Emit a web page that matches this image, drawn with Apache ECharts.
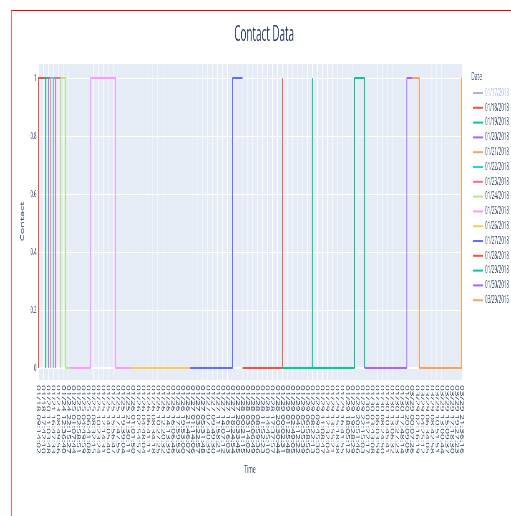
<!DOCTYPE html>
<html><head><meta charset="utf-8">
<script src="https://cdn.jsdelivr.net/npm/echarts@6/dist/echarts.min.js"></script>
<style>
html,body{margin:0;padding:0;background:#fff;overflow:hidden;width:511px;height:516px;}
#wrap{position:absolute;left:0;top:0;width:1136px;height:516px;transform:scaleX(0.45);transform-origin:0 0;}
#chart{width:1136px;height:516px;}
#frame{position:absolute;left:11px;top:10px;width:500px;height:506px;border-top:1px solid #ff0000;border-left:1px solid #ee6b6b;pointer-events:none;}
</style></head><body>
<div id="wrap"><div id="chart"></div></div>
<div id="frame"></div>
<script>
// x categories (time stamps)
const timeLabels = [
'01/18 09:14:02','01/18 09:14:37','01/18 17:42:10',
'01/19 08:55:21',
'01/20 11:03:48',
'01/21 10:20:05','01/21 16:47:33',
'01/22 09:31:12',
'01/23 08:49:56',
'01/24 09:02:14','01/24 12:36:40','01/24 17:58:03','01/24 22:15:27',
'01/25 00:12:09','01/25 01:07:44','01/25 02:03:18','01/25 02:58:51','01/25 03:54:26','01/25 04:49:59','01/25 05:45:33','01/25 06:41:08','01/25 07:36:42','01/25 08:32:15','01/25 09:27:49','01/25 10:23:24','01/25 11:18:57','01/25 12:14:31','01/25 13:10:06','01/25 14:05:40','01/25 15:01:13','01/25 15:56:47','01/25 16:52:22','01/25 17:47:55','01/25 18:43:29','01/25 19:39:04','01/25 20:34:38','01/25 21:30:11',
'01/26 00:05:17','01/26 01:01:50','01/26 01:58:24','01/26 02:54:57','01/26 03:51:31','01/26 04:48:04','01/26 05:44:38','01/26 06:41:11','01/26 07:37:45','01/26 08:34:18','01/26 09:30:52','01/26 10:27:25','01/26 11:23:59','01/26 12:20:32','01/26 13:17:06','01/26 14:13:39','01/26 15:10:13','01/26 16:06:46','01/26 17:03:20','01/26 17:59:53','01/26 18:56:27','01/26 19:53:00','01/26 20:49:34','01/26 21:46:07',
'01/27 00:09:41','01/27 01:14:06','01/27 02:18:32','01/27 03:22:57','01/27 04:27:23','01/27 05:31:48','01/27 06:36:14','01/27 07:40:39','01/27 08:45:05','01/27 09:49:30','01/27 10:53:56','01/27 11:58:21','01/27 13:02:47','01/27 14:07:12','01/27 15:11:38','01/27 16:16:03','01/27 17:20:29','01/27 18:24:54','01/27 19:29:20','01/27 20:33:45','01/27 21:38:11',
'01/28 00:21:15','01/28 01:47:38','01/28 03:14:02','01/28 04:40:25','01/28 06:06:49','01/28 07:33:12','01/28 08:59:36','01/28 10:25:59','01/28 11:52:23','01/28 13:18:46','01/28 14:45:10','01/28 16:11:33','01/28 17:37:57','01/28 19:04:20','01/28 20:30:44','01/28 21:57:07',
'01/29 00:02:31','01/29 00:44:09','01/29 01:25:48','01/29 02:07:26','01/29 02:49:05','01/29 03:30:43','01/29 04:12:22','01/29 04:54:00','01/29 05:35:39','01/29 06:17:17','01/29 06:58:56','01/29 07:40:34','01/29 08:22:13','01/29 09:03:51','01/29 09:45:30','01/29 10:27:08','01/29 11:08:47','01/29 11:50:25','01/29 12:32:04','01/29 13:13:42','01/29 13:55:21','01/29 14:36:59','01/29 15:18:38','01/29 16:00:16','01/29 16:41:55','01/29 17:23:33','01/29 18:05:12','01/29 18:46:50','01/29 19:28:29','01/29 20:10:07','01/29 20:51:46','01/29 21:33:24','01/29 22:15:03',
'01/30 00:11:52','01/30 01:22:17','01/30 02:32:43','01/30 03:43:08','01/30 04:53:34','01/30 06:03:59','01/30 07:14:25','01/30 08:24:50','01/30 09:35:16','01/30 10:45:41','01/30 11:56:07','01/30 13:06:32','01/30 14:16:58','01/30 15:27:23','01/30 16:37:49','01/30 17:48:14','01/30 18:58:40','01/30 20:09:05','01/30 21:19:31',
'03/29 00:07:26','03/29 01:11:53','03/29 02:16:19','03/29 03:20:46','03/29 04:25:12','03/29 05:29:39','03/29 06:34:05','03/29 07:38:32','03/29 08:42:58','03/29 09:47:25','03/29 10:51:51','03/29 11:56:18','03/29 13:00:44','03/29 14:05:11','03/29 15:09:37','03/29 16:14:04','03/29 17:18:30','03/29 18:22:57','03/29 19:27:23','03/29 20:31:50','03/29 21:36:16'
];

// legend names (one series per date)
const dateNames = ['01/17/2018','01/18/2018','01/19/2018','01/20/2018','01/21/2018','01/22/2018','01/23/2018','01/24/2018','01/25/2018','01/26/2018','01/27/2018','01/28/2018','01/29/2018','01/30/2018','03/29/2016'];

// series values: [category index, contact]
const contact0117 = [[0,0],[0,1]];
const contact0118 = [[0,0],[0,1],[3,0]];
const contact0119 = [[3,0],[3,1],[4,0]];
const contact0120 = [[4,0],[4,1],[5,0]];
const contact0121 = [[5,0],[5,1],[6,0]];
const contact0122 = [[6,0],[6,1],[7,0]];
const contact0123 = [[7,0],[7,1],[9,0]];
const contact0124 = [[9,0],[9,1],[11,0],[13,0]];
const contact0125 = [[13,0],[21,1],[31,0],[37,0]];
const contact0126 = [[37,0],[61,0]];
const contact0127 = [[61,0],[78,1],[82,1]];
const contact0128 = [[82,0],[98,1]];
const contact0129 = [[98,0],[110,1],[110,0],[127,1],[131,0]];
const contact0130 = [[131,0],[148,1],[150,1]];
const contact0329 = [[150,1],[153,0],[170,1]];

const seriesValues = [contact0117,contact0118,contact0119,contact0120,contact0121,contact0122,contact0123,contact0124,contact0125,contact0126,contact0127,contact0128,contact0129,contact0130,contact0329];
const palette = ['#636EFA','#EF553B','#00CC96','#AB63FA','#FFA15A','#19D3F3','#FF6692','#B6E880','#FF97FF','#FECB52','#636EFA','#EF553B','#00CC96','#AB63FA','#FFA15A'];

const FONT = 'Open Sans';
const TXT = '#2a3f5f';

const chart = echarts.init(document.getElementById('chart'), null, {renderer:'canvas'});
const series = dateNames.map((name, i) => ({
  name: name,
  type: 'line',
  step: 'end',
  data: seriesValues[i],
  xAxisIndex: 0,
  yAxisIndex: 0,
  symbol: 'none',
  showSymbol: false,
  lineStyle: {width: 2, color: palette[i]},
  itemStyle: {color: palette[i]},
  emphasis: {disabled: true}
}));
const selected = {};
selected['01/17/2018'] = false;

chart.setOption({
  animation: false,
  textStyle: {fontFamily: FONT},
  title: [
    {text: 'Contact Data', left: 582, top: 19, textAlign: 'center',
     textStyle: {fontFamily: FONT, fontSize: 22, fontWeight: 'normal', color: TXT}},
    {text: 'Date', left: 1042, top: 66,
     textStyle: {fontFamily: FONT, fontSize: 11, fontWeight: 'normal', color: TXT}}
  ],
  legend: {
    data: dateNames,
    orient: 'vertical',
    left: 1046, top: 83,
    icon: 'rect', itemWidth: 22, itemHeight: 2, itemGap: 4.8,
    selected: selected,
    inactiveColor: '#aab0ee',
    textStyle: {fontFamily: FONT, fontSize: 10, lineHeight: 10, color: TXT}
  },
  grid: {left: 85, right: 110, top: 63, bottom: 136, show: true, backgroundColor: '#E5ECF6', borderWidth: 0},
  xAxis: [
    {type: 'category', data: timeLabels, boundaryGap: false,
     name: 'Time', nameLocation: 'middle', nameGap: 84,
     nameTextStyle: {fontFamily: FONT, fontSize: 11, color: TXT},
     axisLine: {show: false, onZero: false}, axisTick: {show: false},
     axisLabel: {interval: 1, rotate: -90, fontSize: 10, color: TXT, margin: 5, fontFamily: FONT},
     splitLine: {show: true, interval: 1, lineStyle: {color: '#ffffff', width: 1}}},
    {type: 'category', data: timeLabels, boundaryGap: false, position: 'bottom',
     axisLine: {show: true, onZero: true, lineStyle: {color: '#ffffff', width: 2}},
     axisTick: {show: false}, axisLabel: {show: false}, splitLine: {show: false}}
  ],
  yAxis: {type: 'value', min: -0.041, max: 1.052,
    name: 'Contact', nameLocation: 'middle', nameGap: 30, nameRotate: 90,
    nameTextStyle: {fontFamily: FONT, fontSize: 11, color: TXT},
    axisLine: {show: false}, axisTick: {show: false},
    axisLabel: {showMinLabel: false, showMaxLabel: false, fontSize: 9.5, color: TXT, margin: 4, fontFamily: FONT},
    splitLine: {show: true, lineStyle: {color: '#ffffff', width: 1}}},
  series: series
});
</script></body></html>
